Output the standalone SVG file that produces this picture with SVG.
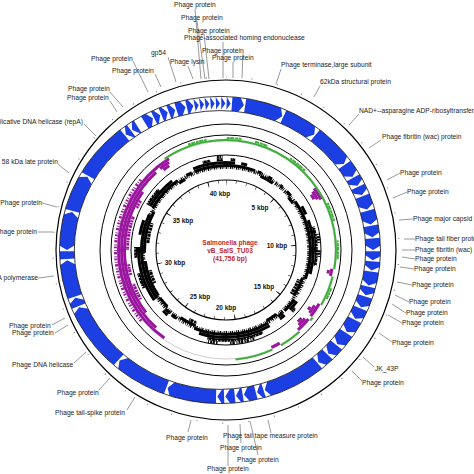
<svg xmlns="http://www.w3.org/2000/svg" width="474" height="474" viewBox="0 0 474 474">
<style>
.lbl{font-family:"Liberation Sans",Arial,sans-serif;font-size:6.7px;fill:#222}
.end{text-anchor:end}
.kbp{font-family:"Liberation Sans",Arial,sans-serif;font-size:6.5px;font-weight:bold;fill:#111;text-anchor:middle}
.ctr{font-family:"Liberation Sans",Arial,sans-serif;font-size:6.5px;font-weight:bold;fill:#c0272d;text-anchor:middle}
.txt{opacity:0.99}
.ring{fill:none;stroke:#000}
.ld{fill:none;stroke:#555;stroke-width:0.6}
.gc{fill:none;stroke:#000;stroke-width:3}
.pu{fill:none;stroke:#9b169f;stroke-width:3}
.gr{fill:none;stroke:#3fae3a;stroke-width:2}
.wc{fill:none;stroke:#fff}
</style>
<defs>
<path id="cw" d="M-5,-154.5L1.2,-154.5L1.2,-138.5L-5,-138.5L0,-146.5Z" fill="#fff"/>
<path id="ccw" d="M5,-154.5L-1.2,-154.5L-1.2,-138.5L5,-138.5L0,-146.5Z" fill="#fff"/>
<rect id="gap" x="-4" y="-155" width="8" height="17" fill="#fff"/>
<clipPath id="leftWedge"><path d="M0,0L-99.6,83.6L-150,83.6L-150,-83.6L-99.6,-83.6Z"/></clipPath>
</defs>
<rect width="474" height="474" fill="#fff"/>

<g id="backbone" transform="translate(226 250)">
<circle class="ring" r="170" stroke-width="1.2"/>
<circle r="173" fill="none" stroke="#777" stroke-width="1.4" pathLength="41.756" stroke-dasharray="0.03 0.97" stroke-dashoffset="0.015" transform="rotate(-90)"/>
<circle class="ring" r="126" stroke-width="1"/>
<circle class="ring" r="115" stroke-width="1"/>
</g>

<g id="gc-skew" transform="translate(226 250)">
<g transform="rotate(-90)">
<circle r="109" fill="none" stroke="#aaa" stroke-width="0.6"/>
<circle class="pu" r="107.5" pathLength="360" stroke-dasharray="0 55 7 38 4 16 8 2 8 12 5 60 113 32"/>
<circle class="pu" r="104.5" pathLength="360" stroke-dasharray="0 56 5 40 2 19 5 4 5 86 96 3 6 33"/>
<circle class="pu" r="101.5" pathLength="360" stroke-dasharray="0 57 3 64 2 6 3 97 73 17 4 34"/>
<circle class="pu" r="98.5" pathLength="360" stroke-dasharray="0 240 10 5 7 8 20 5 5 60"/>
<circle class="wc" r="98.3" stroke-width="3.4" pathLength="360" stroke-dasharray="0.4 1.2 0.6 1.7 0.3 1.0"/>
<circle class="gr" r="110" pathLength="360" stroke-dasharray="100 4 16 8 2 8 12 5 20 151 34 0"/>
<circle class="gr" r="112" pathLength="360" stroke-dasharray="8 7 7 13 10 20 10 10 10 15 6 224 10 10"/>
<circle class="wc" r="112.3" stroke-width="1.6" pathLength="360" stroke-dasharray="0.5 1.4 0.3 2.1"/>
</g>
<g clip-path="url(#leftWedge)">
<circle class="pu" r="110.5" transform="rotate(-90)" pathLength="360" stroke-dasharray="0.9 0.6 0.5 1.1 1.2 0.7 0.4 0.9"/>
</g>
</g>

<g id="gc-content" transform="translate(226 250) rotate(-90)">
<circle class="gc" r="84" stroke-width="2" pathLength="360" stroke-dasharray="0.5 0.8 0.3 1.2 0.8 0.6 0.4 1.0"/>
<circle class="gc" r="82.6" stroke-width="1.4" pathLength="360" stroke-dasharray="0.6 0.7 0.4 1.1 0.9 0.5"/>
<circle class="gc" r="84.5" pathLength="360" stroke-dasharray="20 2 3 5 3 7 2 4 4 5 55 16 10 2 4 8 52 14 4 2 4 9 60 5 25 7 4 2 22 0"/>
<circle class="gc" r="87.5" pathLength="360" stroke-dasharray="6 4 4 46 6 4 36 20 7 5 4 8 48 24 4 9 37 8 10 10 22 16 22 0"/>
<circle class="gc" r="90.5" pathLength="360" stroke-dasharray="0 3 3 69 25 30 3 23 36 53 10 10 7 28 12 33 5 4 4 2"/>
<circle class="wc" r="91.2" stroke-width="1.6" pathLength="360" stroke-dasharray="0.4 1.6 0.6 1.2 0.3 2.0"/>
<circle class="gc" r="93.2" stroke-width="2.4" pathLength="360" stroke-dasharray="0 80 6 4 5 67 16 7 7 162 4 2"/>
<circle class="wc" r="93.2" stroke-width="2.6" pathLength="360" stroke-dasharray="0.5 0.9 0.8 1.3 0.4 1.1 0.7 0.6 1.0 1.5"/>
<circle class="gc" r="81.5" pathLength="360" stroke-dasharray="0 25 10 15 5 55 14 18 8 52 12 12 8 2 26 6 30 27 5 30"/>
<circle class="gc" r="78.5" pathLength="360" stroke-dasharray="0 112 12 78 6 37 10 20 15 70"/>
<circle class="wc" r="78.3" stroke-width="3.2" pathLength="360" stroke-dasharray="0.4 1.5 0.6 2.2"/>
</g>

<g id="inner-scale" transform="translate(226 250)">
<circle class="ring" r="95" stroke-width="1"/>
<circle class="ring" r="70" stroke-width="1.1"/>
<circle r="68.5" fill="none" stroke="#000" stroke-width="3" pathLength="41.756" stroke-dasharray="0.05 0.95" stroke-dashoffset="0.025" transform="rotate(-90)"/>
<circle r="67.5" fill="none" stroke="#000" stroke-width="5" pathLength="41.756" stroke-dasharray="0.07 4.93" stroke-dashoffset="0.035" transform="rotate(-90)"/>
</g>

<g id="genes" transform="translate(220 250) scale(1.045 1)">
<circle r="146.5" fill="none" stroke="#1c3fe3" stroke-width="14"/>
<use href="#cw" transform="rotate(0)"/>
<use href="#cw" transform="rotate(2)"/>
<use href="#cw" transform="rotate(4)"/>
<use href="#cw" transform="rotate(9)"/>
<use href="#cw" transform="rotate(24)"/>
<use href="#cw" transform="rotate(38)"/>
<use href="#cw" transform="rotate(54)"/>
<use href="#cw" transform="rotate(60)"/>
<use href="#cw" transform="rotate(64)"/>
<use href="#cw" transform="rotate(68)"/>
<use href="#cw" transform="rotate(74)"/>
<use href="#cw" transform="rotate(80)"/>
<use href="#cw" transform="rotate(85)"/>
<use href="#cw" transform="rotate(90)"/>
<use href="#cw" transform="rotate(94)"/>
<use href="#cw" transform="rotate(98)"/>
<use href="#cw" transform="rotate(104)"/>
<use href="#cw" transform="rotate(108)"/>
<use href="#cw" transform="rotate(113)"/>
<use href="#cw" transform="rotate(118)"/>
<use href="#cw" transform="rotate(124)"/>
<use href="#cw" transform="rotate(130)"/>
<use href="#cw" transform="rotate(135)"/>
<use href="#cw" transform="rotate(140)"/>
<use href="#cw" transform="rotate(163)"/>
<use href="#cw" transform="rotate(166)"/>
<use href="#cw" transform="rotate(171)"/>
<use href="#cw" transform="rotate(174)"/>
<use href="#cw" transform="rotate(178)"/>
<use href="#cw" transform="rotate(181)"/>
<use href="#cw" transform="rotate(200)"/>
<use href="#cw" transform="rotate(221)"/>
<use href="#cw" transform="rotate(247)"/>
<use href="#cw" transform="rotate(251)"/>
<use href="#cw" transform="rotate(266)"/>
<use href="#ccw" transform="rotate(270)"/>
<use href="#cw" transform="rotate(285)"/>
<use href="#cw" transform="rotate(300)"/>
<use href="#ccw" transform="rotate(322)"/>
<use href="#ccw" transform="rotate(325)"/>
<use href="#gap" transform="rotate(329)"/>
<use href="#cw" transform="rotate(334)"/>
<use href="#cw" transform="rotate(337)"/>
<use href="#cw" transform="rotate(340)"/>
<use href="#cw" transform="rotate(343)"/>
<use href="#cw" transform="rotate(347)"/>
<use href="#cw" transform="rotate(350)"/>
<use href="#cw" transform="rotate(352)"/>
<use href="#cw" transform="rotate(354)"/>
<use href="#cw" transform="rotate(356)"/>
<use href="#cw" transform="rotate(358)"/>
<circle r="153.6" fill="none" stroke="#111" stroke-width="0.8"/>
<circle r="139.4" fill="none" stroke="#111" stroke-width="0.8"/>
</g>

<g id="connectors" class="ld">
<line x1="195" y1="9" x2="201" y2="79"/>
<line x1="197" y1="21" x2="205" y2="79"/>
<line x1="204" y1="34" x2="209" y2="79"/>
<line x1="223" y1="42" x2="223" y2="78"/>
<line x1="243" y1="53" x2="242" y2="78"/>
<line x1="233" y1="62" x2="233" y2="78"/>
<line x1="168" y1="57" x2="176" y2="82"/>
<line x1="188" y1="66" x2="193" y2="79"/>
<line x1="155" y1="74" x2="161" y2="87"/>
<line x1="133" y1="61" x2="148" y2="92"/>
<line x1="110" y1="92" x2="123" y2="107"/>
<line x1="110" y1="101" x2="117" y2="112"/>
<line x1="84" y1="124" x2="96" y2="136"/>
<line x1="58" y1="164" x2="69" y2="173"/>
<line x1="42" y1="203" x2="57" y2="207"/>
<line x1="38" y1="232" x2="53" y2="232"/>
<line x1="38" y1="278" x2="54" y2="276"/>
<line x1="52" y1="325" x2="65" y2="318"/>
<line x1="55" y1="333" x2="68" y2="325"/>
<line x1="74" y1="363" x2="86" y2="352"/>
<line x1="99" y1="390" x2="110" y2="378"/>
<line x1="127" y1="410" x2="135" y2="397"/>
<line x1="188" y1="432" x2="191" y2="420"/>
<line x1="271" y1="433" x2="268" y2="420"/>
<line x1="241" y1="443" x2="240" y2="424"/>
<line x1="258" y1="455" x2="250" y2="421"/>
<line x1="228" y1="466" x2="228" y2="425"/>
<line x1="352" y1="371" x2="362" y2="381"/>
<line x1="363" y1="357" x2="374" y2="367"/>
<line x1="379" y1="333" x2="392" y2="342"/>
<line x1="388" y1="315" x2="402" y2="323"/>
<line x1="392" y1="304" x2="406" y2="313"/>
<line x1="395" y1="295" x2="409" y2="302"/>
<line x1="397" y1="282" x2="412" y2="285"/>
<line x1="400" y1="267" x2="414" y2="269"/>
<line x1="402" y1="257" x2="415" y2="259"/>
<line x1="402" y1="250" x2="415" y2="250"/>
<line x1="404" y1="239" x2="415" y2="239"/>
<line x1="399" y1="220" x2="413" y2="219"/>
<line x1="393" y1="198" x2="407" y2="192"/>
<line x1="387" y1="180" x2="400" y2="173"/>
<line x1="369" y1="148" x2="381" y2="140"/>
<line x1="349" y1="125" x2="359" y2="114"/>
<line x1="314" y1="97" x2="320" y2="86"/>
<line x1="276" y1="84" x2="281" y2="69"/>
</g>

<g id="labels" class="txt">
<g id="l1"><text class="lbl" x="174" y="6.5">Phage protein</text></g>
<g id="l2"><text class="lbl" x="181" y="19.5">Phage protein</text></g>
<g id="l3"><text class="lbl" x="188" y="32.5">Phage protein</text></g>
<g id="l4"><text class="lbl" x="184" y="39.5">Phage-associated homing endonuclease</text></g>
<g id="l5"><text class="lbl" x="202" y="52.5">Phage protein</text></g>
<g id="l6"><text class="lbl" x="212" y="59.5">Phage protein</text></g>
<g id="l7"><text class="lbl" x="151" y="54.5">gp54</text></g>
<g id="l8"><text class="lbl" x="170" y="63.5">Phage lysin</text></g>
<g id="l9"><text class="lbl" x="112" y="72.5">Phage protein</text></g>
<g id="l10"><text class="lbl" x="91" y="60.5">Phage protein</text></g>
<g id="l11"><text class="lbl" x="68" y="90.5">Phage protein</text></g>
<g id="l12"><text class="lbl" x="67" y="99.5">Phage protein</text></g>
<g id="l13"><text class="lbl end" x="83" y="123.5">Replicative DNA helicase (repA)</text></g>
<g id="l14"><text class="lbl end" x="58" y="163.5">58 kDa late protein</text></g>
<g id="l15"><text class="lbl end" x="42" y="205">Phage protein</text></g>
<g id="l16"><text class="lbl end" x="37" y="234">Phage protein</text></g>
<g id="l17"><text class="lbl end" x="38" y="280">DNA polymerase</text></g>
<g id="l18"><text class="lbl" x="9" y="328">Phage protein</text></g>
<g id="l19"><text class="lbl" x="12" y="335">Phage protein</text></g>
<g id="l20"><text class="lbl" x="12" y="367">Phage DNA helicase</text></g>
<g id="l21"><text class="lbl" x="57" y="395">Phage protein</text></g>
<g id="l22"><text class="lbl" x="55" y="415">Phage tail-spike protein</text></g>
<g id="l23"><text class="lbl" x="166" y="440">Phage protein</text></g>
<g id="l24"><text class="lbl" x="223" y="438">Phage tail tape measure protein</text></g>
<g id="l25"><text class="lbl" x="220" y="450">Phage protein</text></g>
<g id="l26"><text class="lbl" x="237" y="462">Phage protein</text></g>
<g id="l27"><text class="lbl" x="207" y="471">Phage protein</text></g>
<g id="l28"><text class="lbl" x="362" y="385">Phage protein</text></g>
<g id="l29"><text class="lbl" x="375" y="371">JK_43P</text></g>
<g id="l30"><text class="lbl" x="392" y="345">Phage protein</text></g>
<g id="l31"><text class="lbl" x="402" y="325">Phage protein</text></g>
<g id="l32"><text class="lbl" x="406" y="315">Phage protein</text></g>
<g id="l33"><text class="lbl" x="409" y="304">Phage protein</text></g>
<g id="l34"><text class="lbl" x="412" y="287">Phage protein</text></g>
<g id="l35"><text class="lbl" x="414" y="271">Phage protein</text></g>
<g id="l36"><text class="lbl" x="415" y="261">Phage protein</text></g>
<g id="l37"><text class="lbl" x="415" y="252">Phage fibritin (wac) protein</text></g>
<g id="l38"><text class="lbl" x="415" y="241">Phage tail fiber protein</text></g>
<g id="l39"><text class="lbl" x="413" y="221">Phage major capsid protein</text></g>
<g id="l40"><text class="lbl" x="407" y="194">Phage protein</text></g>
<g id="l41"><text class="lbl" x="400" y="175">Phage protein</text></g>
<g id="l42"><text class="lbl" x="382" y="139">Phage fibritin (wac) protein</text></g>
<g id="l43"><text class="lbl" x="359" y="113">NAD+--asparagine ADP-ribosyltransferase</text></g>
<g id="l44"><text class="lbl" x="320" y="84">62kDa structural protein</text></g>
<g id="l45"><text class="lbl" x="281" y="67">Phage terminase,large subunit</text></g>
</g>

<g id="scale-labels" class="txt">
<text class="kbp" x="220" y="196">40 kbp</text>
<text class="kbp" x="260" y="210">5 kbp</text>
<text class="kbp" x="183" y="223">35 kbp</text>
<text class="kbp" x="277" y="248">10 kbp</text>
<text class="kbp" x="175" y="265">30 kbp</text>
<text class="kbp" x="264" y="289">15 kbp</text>
<text class="kbp" x="200" y="299">25 kbp</text>
<text class="kbp" x="226" y="310">20 kbp</text>
</g>

<g id="title" class="txt">
<text class="ctr" x="230" y="245">Salmonella phage</text>
<text class="ctr" x="230" y="253">vB_SalS_TU03</text>
<text class="ctr" x="230" y="261">(41,756 bp)</text>
</g>
</svg>
